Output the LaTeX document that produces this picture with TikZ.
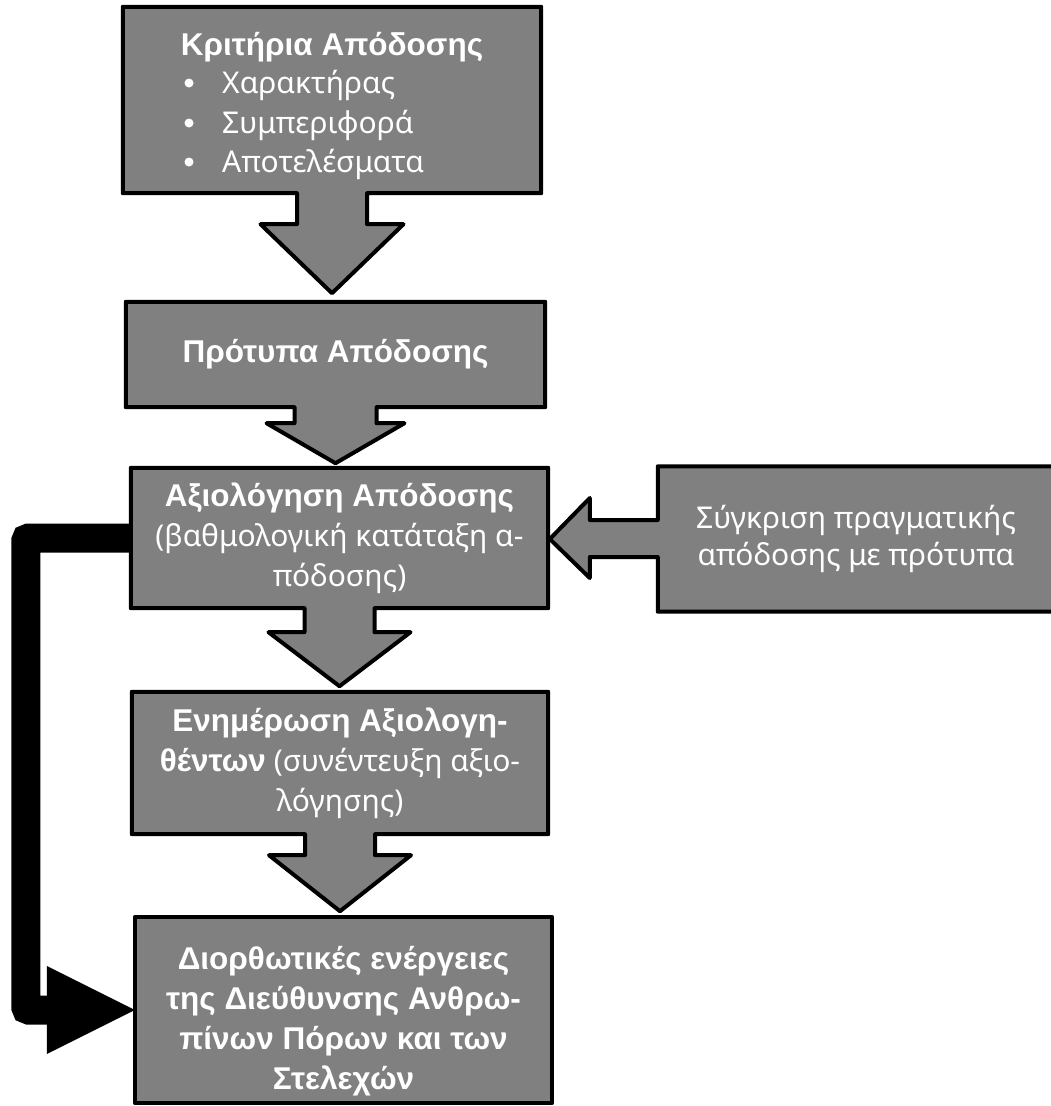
\documentclass[tikz,border=0pt]{standalone}
\usepackage{fontspec}
\setmainfont{Noto Sans}
\newfontfamily\boldsans{Liberation Sans}
\usetikzlibrary{calc,arrows.meta}
\pgfdeclarelayer{background}
\pgfsetlayers{background,main}
\definecolor{boxgrey}{HTML}{808080}
\newcommand\hd[1]{{\boldsans\bfseries\fontsize{31.5}{40}\selectfont #1}}
% grey box with a downward arrow below it:
% #1 node, #2 stem half width, #3 wing half width, #4 wing depth, #5 tip depth
\newcommand\downcallout[5]{%
  \begin{pgfonlayer}{background}
    \draw[callout] (#1.north west) -- (#1.north east) -- (#1.south east)
      -- ($(#1.south)+(#2,0)$) -- ($(#1.south)+(#2,#4)$) -- ($(#1.south)+(#3,#4)$)
      -- ($(#1.south)+(0,#5)$)
      -- ($(#1.south)+(-#3,#4)$) -- ($(#1.south)+(-#2,#4)$) -- ($(#1.south)+(-#2,0)$)
      -- (#1.south west) -- cycle;
  \end{pgfonlayer}}
\tikzset{
  callout/.style={fill=boxgrey, draw=black, line width=4pt, line join=round},
  boxtext/.style={text=white, align=center, inner sep=0pt,
    font=\fontsize{30}{40}\selectfont},
  itemtext/.style={text=white, inner sep=0pt, anchor=base west,
    font=\fontsize{30}{39}\selectfont},
  feedback/.style={draw=black, line width=29pt, rounded corners=3pt,
    -{Triangle[length=88pt,width=88pt,line width=0pt]}},
}
\begin{document}
\begin{tikzpicture}[x=1pt,y=-1pt]
\useasboundingbox (0,0) rectangle (1050,1106);

% criteria box
\node[boxtext, minimum width=418pt, minimum height=186pt] (b1) at (332,100) {};
\node[boxtext, anchor=base] (t1) at (332,55) {\hd{Κριτήρια Απόδοσης}};
\node[itemtext] (i1) at (222,93) {Χαρακτήρας};
\node[itemtext] (i2) at (222,133) {Συμπεριφορά};
\node[itemtext] (i3) at (222,172) {Αποτελέσματα};
\fill[white] (189,83) circle (4.5) (189,123) circle (4.5) (189,162) circle (4.5);
\downcallout{b1}{35}{71.5}{31}{100}

% standards box
\node[boxtext, minimum width=419pt, minimum height=105pt] (b2) at (335.5,354.5)
  {\hd{Πρότυπα Απόδοσης}};
\downcallout{b2}{41}{69}{16}{56}

% appraisal box
\node[boxtext, minimum width=417pt, minimum height=140pt] (b3) at (339.5,538)
  {\hd{Αξιολόγηση Απόδοσης}\\(βαθμολογική κατάταξη α-\\πόδοσης)};
\downcallout{b3}{35}{71}{24}{78}

% feedback box
\node[boxtext, minimum width=416pt, minimum height=142pt] (b4) at (340,763)
  {\hd{Ενημέρωση Αξιολογη-}\\\hd{θέντων} (συνέντευξη αξιο-\\λόγησης)};
\downcallout{b4}{35}{71}{21}{77}

% corrective actions box
\node[boxtext, minimum width=417pt, minimum height=186pt] (b5) at (343.5,1010) {};
\node[boxtext] (t5) at (343.5,1021)
  {\hd{Διορθωτικές ενέργειες}\\\hd{της Διεύθυνσης Ανθρω-}\\\hd{πίνων Πόρων και των}\\\hd{Στελεχών}};
\begin{pgfonlayer}{background}
  \draw[callout] (b5.north west) rectangle (b5.south east);
\end{pgfonlayer}

% comparison box with a left-pointing arrow
\node[boxtext, minimum width=396pt, minimum height=145pt, font=\fontsize{30}{37}\selectfont]
  (b6) at (856,539) {Σύγκριση πραγματικής\\απόδοσης με πρότυπα};
\begin{pgfonlayer}{background}
  \draw[callout] (b6.north west) -- (b6.north east) -- (b6.south east) -- (b6.south west)
    -- ($(b6.west)+(0,18)$) -- ($(b6.west)+(-68,18)$) -- ($(b6.west)+(-68,39)$)
    -- ($(b6.west)+(-108,0)$)
    -- ($(b6.west)+(-68,-41)$) -- ($(b6.west)+(-68,-19)$) -- ($(b6.west)+(0,-19)$) -- cycle;
\end{pgfonlayer}

% feedback loop from appraisal to corrective actions
\draw[feedback] (b3.west) -- ++(-105,0) |- (b5.west);
\end{tikzpicture}
\end{document}
